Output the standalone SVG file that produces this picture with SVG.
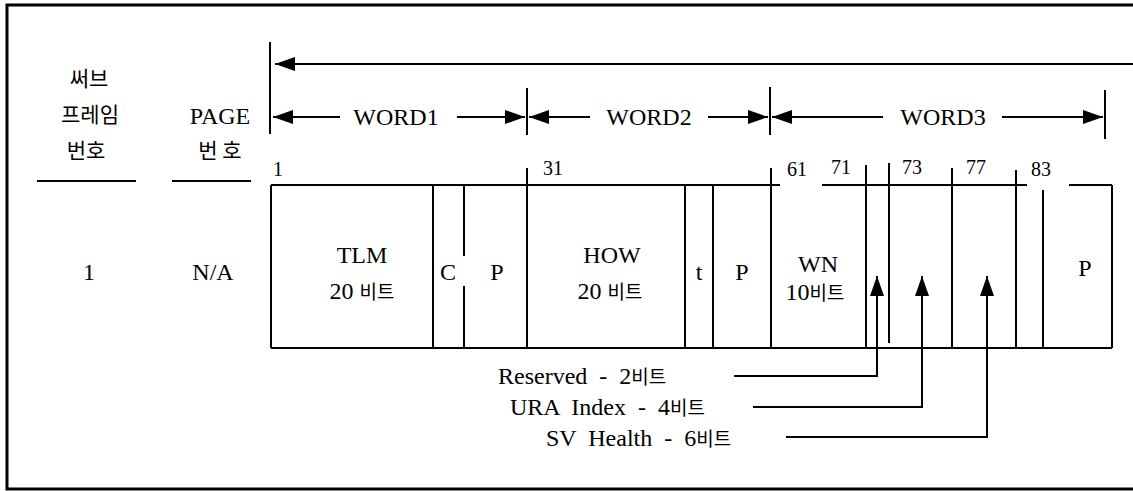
<svg xmlns="http://www.w3.org/2000/svg" width="1133" height="491" viewBox="0 0 1133 491">
<style>
.ln{stroke:#000;stroke-width:2;fill:none}
.bd{stroke:#000;stroke-width:3;fill:none}
.t{font-family:"Liberation Serif","DejaVu Serif","Times New Roman",serif;font-size:24px;fill:#000}
.n{font-family:"Liberation Serif","DejaVu Serif",serif;font-size:20px;fill:#000}
.k{font-family:"Noto Sans CJK KR",sans-serif;font-size:21px;fill:#000}
.ks{font-family:"Noto Sans CJK KR",sans-serif;font-size:19px}
.m{text-anchor:middle}
.ws{word-spacing:6px}
</style>
<defs>
<marker id="ah" markerUnits="userSpaceOnUse" markerWidth="20" markerHeight="14" refX="20" refY="7" orient="auto">
<path d="M0,0 L20,7 L0,14 z" fill="#000"/>
</marker>
</defs>
<rect width="1133" height="491" fill="#fff"/>
<path class="bd" d="M1133,5 H7 V489 H1133"/>

<g id="header-subframe">
<text class="k m" x="89" y="86">써브</text>
<text class="k m" x="90" y="122">프레임</text>
<text class="k m" x="86" y="158">번호</text>
<line class="ln" x1="37" y1="181" x2="136" y2="181"/>
</g>
<g id="header-page">
<text class="t m" x="220" y="124">PAGE</text>
<text class="k m" x="220" y="158" xml:space="preserve">번 호</text>
<line class="ln" x1="172" y1="181" x2="251" y2="181"/>
</g>
<g id="row-values">
<text class="t m" x="89" y="280">1</text>
<text class="t m" x="213" y="280">N/A</text>
</g>

<g id="frame-span">
<line class="ln" x1="270" y1="42" x2="270" y2="134"/>
<line class="ln" x1="1133" y1="64" x2="275" y2="64" marker-end="url(#ah)"/>
</g>

<g id="word-spans">
<line class="ln" x1="527" y1="88" x2="527" y2="135"/>
<line class="ln" x1="770" y1="87" x2="770" y2="135"/>
<line class="ln" x1="1105" y1="90" x2="1105" y2="139"/>
<g id="word1">
<line class="ln" x1="340" y1="117" x2="273" y2="117" marker-end="url(#ah)"/>
<text class="t m" x="396" y="125">WORD1</text>
<line class="ln" x1="457" y1="117" x2="525" y2="117" marker-end="url(#ah)"/>
</g>
<g id="word2">
<line class="ln" x1="590" y1="117" x2="529" y2="117" marker-end="url(#ah)"/>
<text class="t m" x="649" y="125">WORD2</text>
<line class="ln" x1="708" y1="117" x2="768" y2="117" marker-end="url(#ah)"/>
</g>
<g id="word3">
<line class="ln" x1="883" y1="117" x2="772" y2="117" marker-end="url(#ah)"/>
<text class="t m" x="943" y="125">WORD3</text>
<line class="ln" x1="1002" y1="117" x2="1103" y2="117" marker-end="url(#ah)"/>
</g>
</g>

<g id="bit-numbers">
<text class="n" x="273" y="176">1</text>
<text class="n" x="543" y="175">31</text>
<text class="n" x="787" y="176">61</text>
<text class="n" x="831" y="174">71</text>
<text class="n" x="902" y="174">73</text>
<text class="n" x="966" y="174">77</text>
<text class="n" x="1031" y="176">83</text>
</g>

<g id="field-grid">
<path class="ln" d="M271,185 H780 M822,185 H1027 M1069,185 H1112 M271,348 H1112"/>
<path class="ln" d="M271,185 V348 M433,185 V348 M464,185 V256 M464,286 V348 M527,168 V348 M685,185 V348 M713,185 V348 M771,168 V348 M866,165 V348 M889,163 V343 M952,168 V348 M1016,170 V348 M1043,190 V348 M1112,185 V348"/>
</g>

<g id="field-tlm">
<text class="t m" x="362" y="263">TLM</text>
<text class="t m" x="362" y="299">20 <tspan class="ks">비트</tspan></text>
</g>
<g id="field-c"><text class="t m" x="448" y="280">C</text></g>
<g id="field-p1"><text class="t m" x="497" y="280">P</text></g>
<g id="field-how">
<text class="t m" x="612" y="263">HOW</text>
<text class="t m" x="610" y="299">20 <tspan class="ks">비트</tspan></text>
</g>
<g id="field-t"><text class="t m" x="699" y="280">t</text></g>
<g id="field-p2"><text class="t m" x="742" y="280">P</text></g>
<g id="field-wn">
<text class="t m" x="818" y="272">WN</text>
<text class="t m" x="815" y="300">10<tspan class="ks">비트</tspan></text>
</g>
<g id="field-p3"><text class="t m" x="1085" y="276">P</text></g>

<g id="labels">
<text class="t ws" x="498" y="384">Reserved - 2<tspan class="ks">비트</tspan></text>
<text class="t ws" x="510" y="415">URA Index - 4<tspan class="ks">비트</tspan></text>
<text class="t ws" x="546" y="446">SV Health - 6<tspan class="ks">비트</tspan></text>
</g>

<g id="connectors">
<path class="ln" d="M734,376 H877 V276" marker-end="url(#ah)"/>
<path class="ln" d="M753,407 H922 V276" marker-end="url(#ah)"/>
<path class="ln" d="M786,437 H987 V276" marker-end="url(#ah)"/>
</g>
</svg>
